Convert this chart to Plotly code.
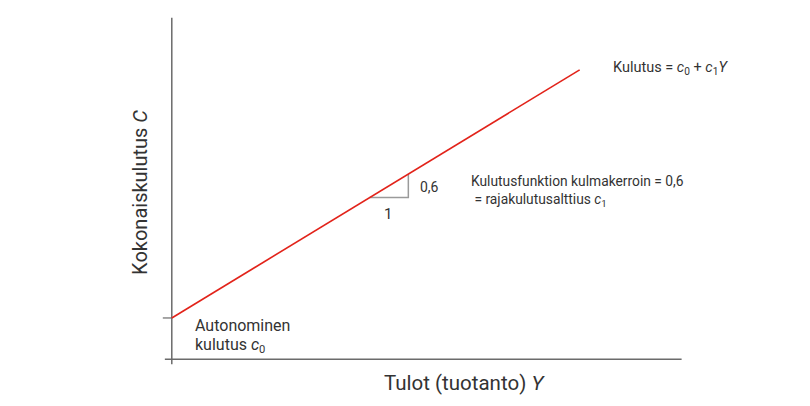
import plotly.graph_objects as go

# Data ########################################################################
income = [0, 10]                 # Y (tulot)
consumption = [1.0, 7.0]         # C = c0 + c1*Y, c0 = 1, c1 = 0.6
c0_level = 1.0

tri_x = [4.85, 5.8, 5.8]         # slope triangle (run 1, rise 0,6)
tri_y = [3.91, 3.91, 4.48]

x_axis_x = [-0.17, 12.5]
x_axis_y = [0, 0]
y_axis_x = [0, 0]
y_axis_y = [-0.12, 8.26]
tick_x = [-0.22, 0]
tick_y = [c0_level, c0_level]

# Pixel scale used for the layout (px per data unit)
ux, uy = 40.8, 41.3
x_range = [-1, 13]
y_range = [-0.5, 8.35]
W, H = 810, 406
OFF = 8  # page body margin
x0_px = 172 - OFF
y0_px = 359 - OFF
left = x0_px - (0 - x_range[0]) * ux
right = W - left - (x_range[1] - x_range[0]) * ux
bottom = H - (y0_px + (0 - y_range[0]) * uy)
top = max(0, H - bottom - (y_range[1] - y_range[0]) * uy)

FONT = "Roboto"
TXT = "#333333"
AXIS = "#6b6b6b"

fig = go.Figure()

fig.add_trace(go.Scatter(x=x_axis_x, y=x_axis_y, mode='lines',
                         line=dict(color=AXIS, width=1.5), hoverinfo='skip'))
fig.add_trace(go.Scatter(x=y_axis_x, y=y_axis_y, mode='lines',
                         line=dict(color=AXIS, width=1.5), hoverinfo='skip'))
fig.add_trace(go.Scatter(x=tick_x, y=tick_y, mode='lines',
                         line=dict(color=AXIS, width=1.2), hoverinfo='skip'))
fig.add_trace(go.Scatter(x=tri_x, y=tri_y, mode='lines',
                         line=dict(color='#9a9a9a', width=1.5), hoverinfo='skip'))
fig.add_trace(go.Scatter(x=income, y=consumption, mode='lines',
                         line=dict(color='#e2231a', width=1.6), name='Kulutus'))

labels = [
    dict(x=10.76, y=7.05, text="Kulutus = <i>c</i><sub>0</sub> + <i>c</i><sub>1</sub><i>Y</i>", size=14.5),
    dict(x=7.28, y=4.31, text="Kulutusfunktion kulmakerroin = 0,6", size=13.8),
    dict(x=7.28, y=3.85, text=" = rajakulutusalttius <i>c</i><sub>1</sub>", size=13.8),
    dict(x=6.03, y=4.16, text="0,6", size=14),
    dict(x=5.15, y=3.51, text="1", size=15),
    dict(x=0.51, y=0.82, text="Autonominen", size=16),
    dict(x=0.51, y=0.34, text="kulutus <i>c</i><sub>0</sub>", size=16),
]
for lab in labels:
    fig.add_annotation(x=lab['x'], y=lab['y'], xref='x', yref='y',
                       text=lab['text'], showarrow=False,
                       xanchor='left', yanchor='middle',
                       font=dict(family=FONT, size=lab['size'], color=TXT))


def plot_frac(px, py):
    # convert window pixels to plot-area paper fractions
    fx = (px - OFF - left) / (W - left - right)
    fy = 1 - (py - OFF - top) / (H - top - bottom)
    return fx, fy


# Axis titles
ax_x, ax_y = plot_frac(465, 383)
fig.add_annotation(x=ax_x, y=ax_y, xref='paper', yref='paper',
                   text="Tulot (tuotanto) <i>Y</i>", showarrow=False,
                   xanchor='center', yanchor='middle',
                   font=dict(family=FONT, size=20.5, color=TXT))
ay_x, ay_y = plot_frac(140, 192)
fig.add_annotation(x=ay_x, y=ay_y, xref='paper', yref='paper',
                   text="Kokonaiskulutus <i>C</i>", showarrow=False, textangle=-90,
                   xanchor='center', yanchor='middle',
                   font=dict(family=FONT, size=20, color=TXT))

fig.update_layout(width=W, height=H,
                  margin=dict(l=left, r=right, t=top, b=bottom),
                  plot_bgcolor='white', paper_bgcolor='white',
                  showlegend=False)
fig.update_xaxes(range=x_range, visible=False)
fig.update_yaxes(range=y_range, visible=False)

fig.write_html("out.html")
